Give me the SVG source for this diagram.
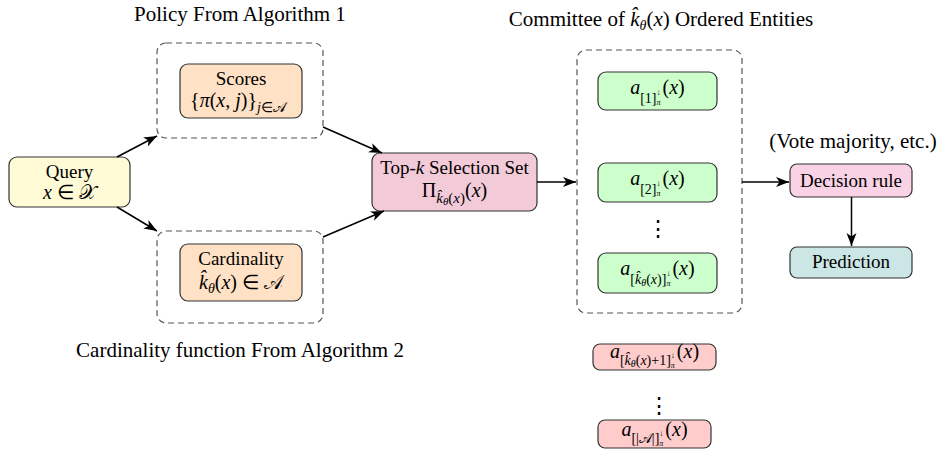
<svg xmlns="http://www.w3.org/2000/svg" width="937" height="462" viewBox="0 0 937 462" font-family="'Liberation Serif', 'Times New Roman', Times, serif">
<defs>
<marker id="arr" markerWidth="14" markerHeight="11" refX="13" refY="5" orient="auto" markerUnits="userSpaceOnUse"><path d="M0,0 L13,5 L0,10 L3.5,5 Z" fill="#000"/></marker>
</defs>
<style>
text{font-family:'Liberation Serif','Times New Roman',Times,serif;fill:#000}
.t{font-size:19px}
.title{font-size:21px}
.m{font-size:20px}
.i{font-style:italic}
.box{stroke:#333;stroke-width:1.2}
.grp{fill:none;stroke:#555;stroke-width:1.2;stroke-dasharray:6 4}
.conn{stroke:#000;stroke-width:1.5;fill:none;marker-end:url(#arr)}
.dots{font-family:'DejaVu Serif',serif;font-size:22px}
</style>
<rect width="937" height="462" fill="#fff"/>

<g id="title-policy"><text class="title" x="240" y="21" text-anchor="middle">Policy From Algorithm 1</text></g>
<g id="title-cardinality"><text class="title" x="240" y="357" text-anchor="middle">Cardinality function From Algorithm 2</text></g>
<g id="title-committee"><text class="title" x="661" y="26" text-anchor="middle" font-size="21.5">Committee of <tspan class="i">k̂</tspan><tspan class="i" font-size="14" dy="4">θ</tspan><tspan dy="-4">(</tspan><tspan class="i">x</tspan>) Ordered Entities</text></g>
<g id="title-vote"><text class="title" x="853" y="148" text-anchor="middle">(Vote majority, etc.)</text></g>

<g id="query">
<rect class="box" x="9" y="157" width="121" height="50" rx="8" fill="#FFFBD6"/>
<text class="t" x="69.5" y="178" text-anchor="middle">Query</text>
<text class="m" x="69.5" y="199" text-anchor="middle"><tspan class="i">x</tspan> ∈ 𝒳</text>
</g>

<g id="policy-group">
<rect class="grp" x="157" y="43" width="166" height="95" rx="9"/>
<g id="scores">
<rect class="box" x="180" y="64" width="122" height="54" rx="8" fill="#FFE1C6"/>
<text class="t" x="241" y="85" text-anchor="middle">Scores</text>
<text class="m" x="238" y="107" text-anchor="middle">{<tspan class="i">π</tspan>(<tspan class="i">x</tspan>, <tspan class="i">j</tspan>)}<tspan font-size="14" class="i" dy="5">j</tspan><tspan font-size="14">∈𝒜</tspan></text>
</g>
</g>

<g id="cardinality-group">
<rect class="grp" x="157" y="231" width="166" height="92" rx="9"/>
<g id="cardinality">
<rect class="box" x="180" y="244" width="122" height="57" rx="8" fill="#FFE1C6"/>
<text class="t" x="241" y="265" text-anchor="middle">Cardinality</text>
<text class="m" x="241" y="289" text-anchor="middle"><tspan class="i">k̂</tspan><tspan class="i" font-size="14" dy="4">θ</tspan><tspan dy="-4">(</tspan><tspan class="i">x</tspan>) ∈ 𝒜</text>
</g>
</g>

<g id="topk">
<rect class="box" x="372" y="153" width="165" height="58" rx="8" fill="#F2CAD8"/>
<text class="t" x="454.5" y="174" text-anchor="middle">Top-<tspan class="i">k</tspan> Selection Set</text>
<text class="m" x="454.5" y="197" text-anchor="middle">Π<tspan class="i" font-size="15" dy="6">k̂</tspan><tspan class="i" font-size="11" dy="2">θ</tspan><tspan font-size="15" dy="-2">(</tspan><tspan class="i" font-size="15">x</tspan><tspan font-size="15">)</tspan><tspan dy="-6">(</tspan><tspan class="i">x</tspan>)</text>
</g>

<g id="committee-group">
<rect class="grp" x="577" y="50" width="165" height="263" rx="9"/>
<g id="entity-1">
<rect class="box" x="598" y="72" width="119" height="38" rx="8" fill="#CCFFCC"/>
<text class="m" x="657.5" y="94" text-anchor="middle"><tspan class="i">a</tspan><tspan font-size="14" dy="9">[1]</tspan><tspan font-size="8" dy="-8">↓</tspan><tspan font-size="8" class="i" dx="-4" dy="10">π</tspan><tspan dx="2" dy="-11">(</tspan><tspan class="i">x</tspan>)</text>
</g>
<g id="entity-2">
<rect class="box" x="598" y="163" width="119" height="39" rx="8" fill="#CCFFCC"/>
<text class="m" x="657.5" y="185" text-anchor="middle"><tspan class="i">a</tspan><tspan font-size="14" dy="9">[2]</tspan><tspan font-size="8" dy="-8">↓</tspan><tspan font-size="8" class="i" dx="-4" dy="10">π</tspan><tspan dx="2" dy="-11">(</tspan><tspan class="i">x</tspan>)</text>
</g>
<text class="dots" x="658" y="236" text-anchor="middle">⋮</text>
<g id="entity-k">
<rect class="box" x="598" y="253" width="119" height="40" rx="8" fill="#CCFFCC"/>
<text class="m" x="657.5" y="275" text-anchor="middle"><tspan class="i">a</tspan><tspan font-size="14" dy="9">[</tspan><tspan font-size="14" class="i">k̂</tspan><tspan font-size="10" class="i" dy="2">θ</tspan><tspan font-size="14" dy="-2">(</tspan><tspan font-size="14" class="i">x</tspan><tspan font-size="14">)]</tspan><tspan font-size="8" dy="-8">↓</tspan><tspan font-size="8" class="i" dx="-4" dy="10">π</tspan><tspan dx="2" dy="-11">(</tspan><tspan class="i">x</tspan>)</text>
</g>
</g>

<g id="entity-k1">
<rect class="box" x="593" y="344" width="123" height="26" rx="7" fill="#FFCCCC"/>
<text class="m" x="654.5" y="358" text-anchor="middle"><tspan class="i">a</tspan><tspan font-size="14" dy="7">[</tspan><tspan font-size="14" class="i">k̂</tspan><tspan font-size="10" class="i" dy="2">θ</tspan><tspan font-size="14" dy="-2">(</tspan><tspan font-size="14" class="i">x</tspan><tspan font-size="14">)+1]</tspan><tspan font-size="8" dy="-7">↓</tspan><tspan font-size="8" class="i" dx="-4" dy="10">π</tspan><tspan dx="2" dy="-10">(</tspan><tspan class="i">x</tspan>)</text>
</g>
<text class="dots" x="659" y="413" text-anchor="middle">⋮</text>
<g id="entity-last">
<rect class="box" x="598" y="420" width="113" height="28" rx="7" fill="#FFCCCC"/>
<text class="m" x="654.5" y="436" text-anchor="middle"><tspan class="i">a</tspan><tspan font-size="14" dy="7">[|𝒜|]</tspan><tspan font-size="8" dy="-7">↓</tspan><tspan font-size="8" class="i" dx="-4" dy="10">π</tspan><tspan dx="2" dy="-10">(</tspan><tspan class="i">x</tspan>)</text>
</g>

<g id="decision">
<rect class="box" x="790" y="164" width="122" height="33" rx="7" fill="#F9D3E5"/>
<text class="t" x="851" y="187" text-anchor="middle">Decision rule</text>
</g>
<g id="prediction">
<rect class="box" x="790" y="247" width="122" height="31" rx="7" fill="#CCE5E5"/>
<text class="t" x="851" y="268" text-anchor="middle">Prediction</text>
</g>

<g id="connectors">
<line class="conn" x1="117" y1="157" x2="157" y2="136"/>
<line class="conn" x1="117" y1="207" x2="157" y2="231"/>
<line class="conn" x1="323" y1="127" x2="382" y2="153"/>
<line class="conn" x1="323" y1="237" x2="384" y2="211"/>
<line class="conn" x1="537" y1="182" x2="576" y2="182"/>
<line class="conn" x1="742" y1="182" x2="789" y2="182"/>
<line class="conn" x1="851.5" y1="197" x2="851.5" y2="246"/>
</g>
</svg>
